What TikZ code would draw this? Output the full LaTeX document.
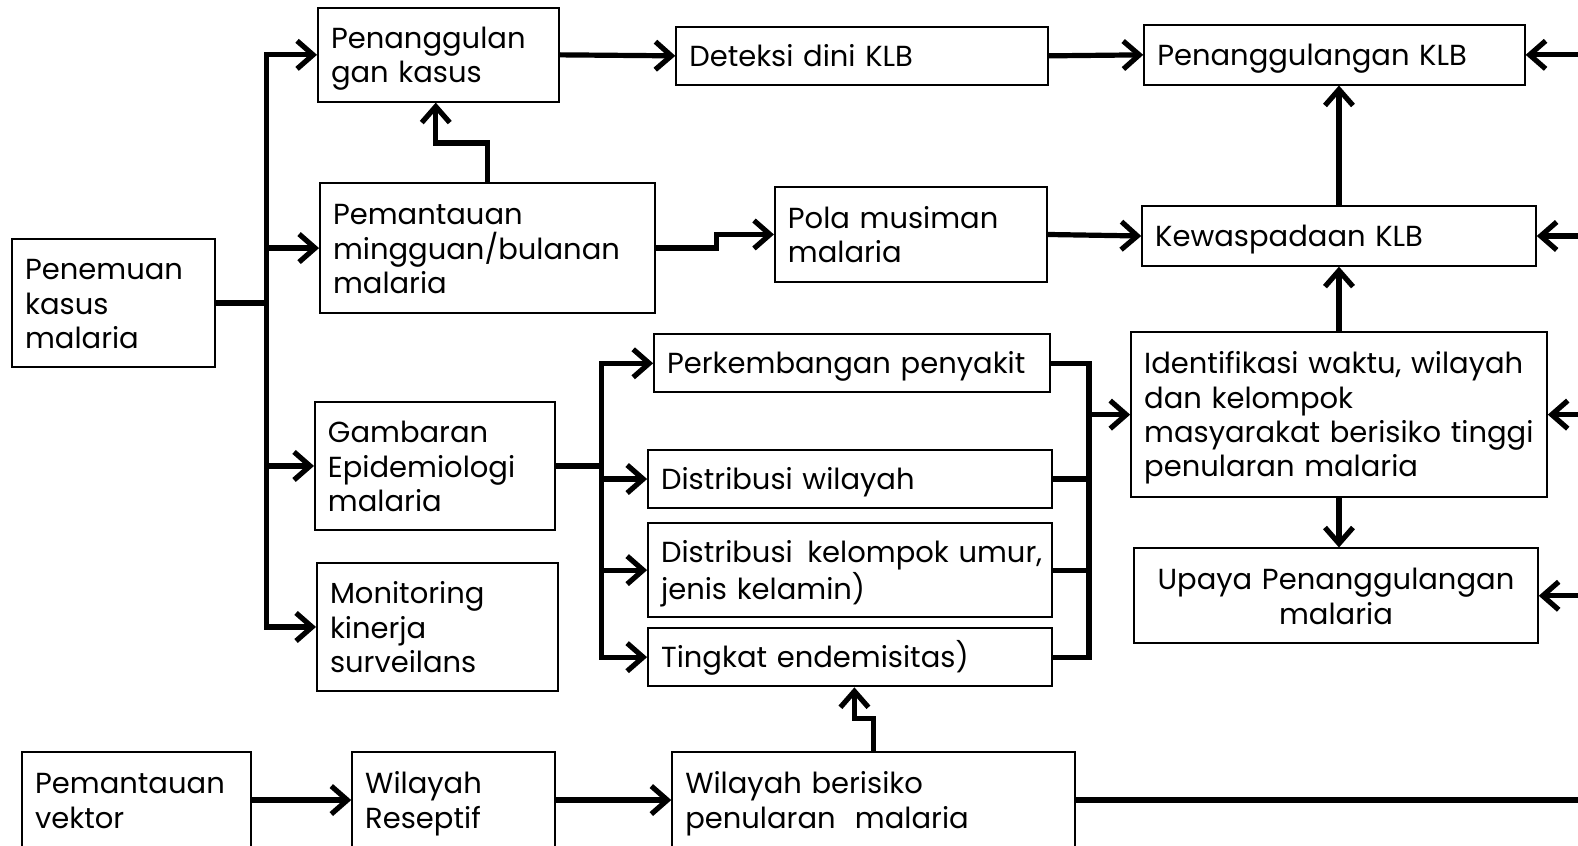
\documentclass[tikz,border=0pt]{standalone}
\usepackage{fontspec}
\setmainfont{Poppins}
\usetikzlibrary{arrows.meta}
\tikzset{
  box/.style={draw, line width=1pt, rectangle, inner xsep=6.5pt, inner ysep=0pt, align=left, font=\fontsize{14.5}{17.2}\selectfont},
  conn/.style={line width=2.6pt, line join=miter},
  arr/.style={conn, -{Straight Barb[length=8pt,width=14pt]}},
}
\newcommand\hs{\rule{0pt}{14.5pt}}
\newcommand\ds{\rule[-3.4pt]{0pt}{3.4pt}}
\newcommand\bx[7][]{%
  \pgfmathsetmacro\bw{(#5-#3)*0.5032}%
  \pgfmathsetmacro\bh{(#6-#4)*0.5032}%
  \pgfmathsetmacro\tw{\bw-13}%
  \node[box, minimum width=\bw pt, minimum height=\bh pt, text width=\tw pt, #1] (#2) at ({(#3+#5)/2},{(#4+#6)/2}) {\hyphenpenalty=10000 \exhyphenpenalty=10000 \hbadness=10000 \hfuzz=20pt \hs #7\ds};}
\begin{document}
\begin{tikzpicture}[x=0.5032pt, y=-0.5032pt]
\useasboundingbox (0,0) rectangle (1568,840);
\clip (0,0) rectangle (1568,840);
\bx{pen}{12}{237}{214}{365}{Penemuan\\kasus\\malaria}
\bx{pk}{316}{8}{555}{101}{Penanggulan\\gan~kasus}
\bx{pem}{318}{182}{651}{311}{Pemantauan\\mingguan/bulanan\\malaria}
\bx{gam}{313}{399}{551}{527}{Gambaran\\Epidemiologi\\malaria}
\bx{mon}{315}{559}{554}{687}{Monitoring\\kinerja\\surveilans}
\bx{det}{672}{27}{1041}{84}{Deteksi~dini~KLB}
\bx{pola}{770}{186}{1040}{280}{Pola~musiman\\malaria}
\bx{pklb}{1137}{25}{1515}{84}{Penanggulangan~KLB}
\bx{kew}{1135}{205}{1526}{264}{Kewaspadaan~KLB}
\bx{idn}{1124}{330}{1537}{494}{Identifikasi~waktu,~wilayah\\dan~kelompok\\masyarakat~berisiko~tinggi\\penularan~malaria}
\bx[align=center]{upy}{1127}{545}{1528}{639}{Upaya~Penanggulangan\\malaria}
\bx{per}{650}{332}{1043}{390}{Perkembangan~penyakit}
\bx{dw}{644}{447}{1045}{505}{Distribusi~wilayah}
\bx{dk}{644}{520}{1045}{613}{Distribusi~\,kelompok~umur,\\jenis~kelamin)}
\bx{ting}{644}{624}{1045}{682}{Tingkat~endemisitas)}
\bx{pv}{22}{747}{249}{843}{Pemantauan\\vektor}
\bx{wr}{350}{747}{551}{843}{Wilayah\\Reseptif}
\bx{wb}{668}{747}{1068}{843}{Wilayah~berisiko\\penularan~~malaria}
% coordinates
\coordinate (t) at (265,0);
\coordinate (g) at (598,0);
\coordinate (r) at (1082,0);
\coordinate (m) at (712,0);
\coordinate (b1) at (433,142);
\coordinate (b2) at (849,714);
\coordinate (e) at (1580,0);
% left trunk
\draw[conn] (pen.east) -- (pen.east -| t);
\draw[arr] (mon.west -| t) -- (pk.west -| t) -- (pk.west);
\draw[arr] (pk.west -| t) -- (mon.west -| t) -- (mon.west);
\draw[arr] (pem.west -| t) -- (pem.west);
\draw[arr] (gam.west -| t) -- (gam.west);
% top row
\draw[arr] (pk.east) -- (det.west);
\draw[arr] (det.east) -- (pklb.west);
\draw[arr] (pem.north) |- (b1) -- (b1 |- pk.south);
\draw[arr] (pem.east) -- (pem.east -| m) -- (pola.west -| m) -- (pola.west);
\draw[arr] (pola.east) -- (kew.west);
\draw[arr] (kew.north) -- (kew.north |- pklb.south);
\draw[arr] (idn.north) -- (idn.north |- kew.south);
\draw[arr] (idn.south) -- (idn.south |- upy.north);
% epidemiology fan
\draw[conn] (gam.east) -- (gam.east -| g);
\draw[arr] (ting.west -| g) -- (per.west -| g) -- (per.west);
\draw[arr] (per.west -| g) -- (ting.west -| g) -- (ting.west);
\draw[arr] (dw.west -| g) -- (dw.west);
\draw[arr] (dk.west -| g) -- (dk.west);
% right collector
\draw[conn] (per.east) -- (per.east -| r) -- (ting.east -| r) -- (ting.east);
\draw[conn] (dw.east) -- (dw.east -| r);
\draw[conn] (dk.east) -- (dk.east -| r);
\draw[arr] (idn.west -| r) -- (idn.west);
% bottom
\draw[arr] (wb.north) |- (b2) -- (b2 |- ting.south);
\draw[arr] (pv.east) -- (wr.west);
\draw[arr] (wr.east) -- (wb.west);
\draw[conn, line width=3.4pt] (wb.east) -- (wb.east -| e);
% incoming from right edge
\draw[arr] (pklb.east -| e) -- (pklb.east);
\draw[arr] (kew.east -| e) -- (kew.east);
\draw[arr] (idn.east -| e) -- (idn.east);
\draw[arr] (upy.east -| e) -- (upy.east);
\end{tikzpicture}
\end{document}
